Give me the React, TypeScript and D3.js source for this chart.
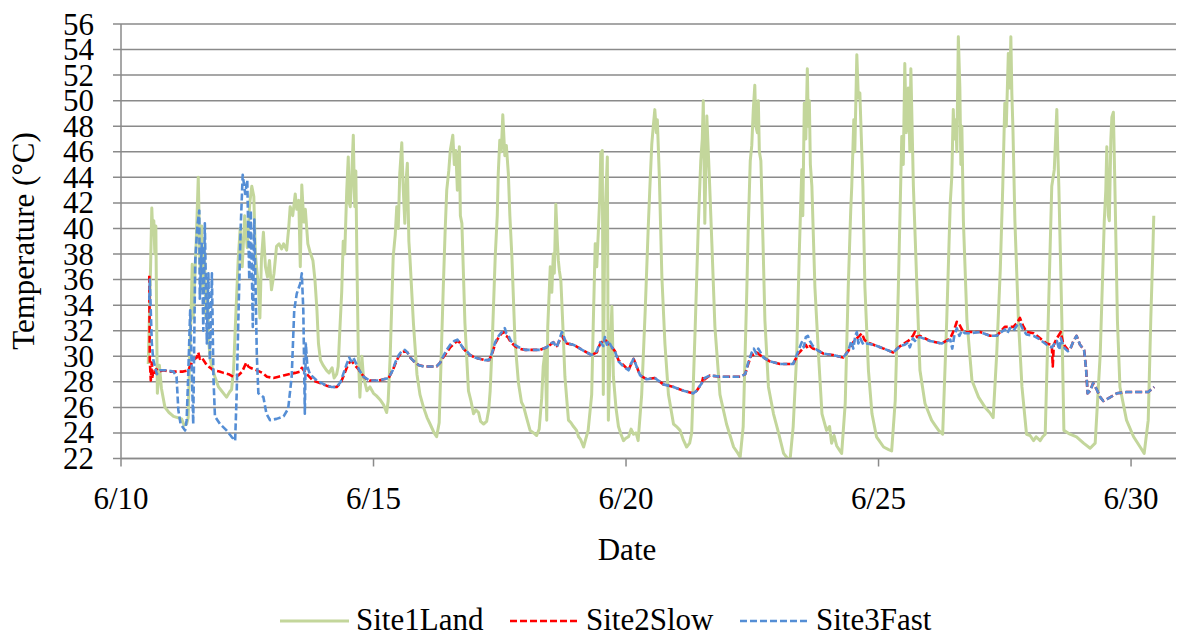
import * as d3 from "d3";

// day of June (fractional) and temperature in °C
const dayTicks = [10, 15, 20, 25, 30];
const tempTicks = d3.range(22, 57, 2);

const site1Land: [number, number][] = [
  [10.54, 29.4], [10.58, 36], [10.61, 41.6], [10.63, 39.5], [10.65, 40.6], [10.67, 38], [10.69, 40.2],
  [10.71, 31], [10.72, 27.1], [10.76, 29.3], [10.8, 27.5], [10.87, 26], [10.95, 25.6], [11.04, 25.3],
  [11.12, 25.2], [11.2, 25.1], [11.25, 24.6], [11.3, 24.7], [11.33, 25.2], [11.36, 30], [11.39, 33.6],
  [11.41, 37.2], [11.43, 33], [11.46, 36], [11.49, 39], [11.53, 44], [11.55, 40], [11.57, 36.5],
  [11.6, 40.2], [11.62, 35], [11.65, 38.5], [11.68, 33], [11.71, 35.5], [11.74, 31], [11.77, 29.7],
  [11.82, 28.9], [11.86, 28.4], [11.93, 27.6], [11.99, 27.3], [12.05, 27], [12.09, 26.8], [12.15, 27.2],
  [12.19, 27.4], [12.23, 29], [12.26, 32], [12.32, 37.5], [12.36, 40], [12.4, 37], [12.45, 41],
  [12.5, 38.5], [12.55, 42], [12.59, 43.3], [12.63, 42.5], [12.66, 38], [12.72, 35.5], [12.75, 33],
  [12.78, 37.5], [12.82, 39.7], [12.86, 37], [12.9, 36.2], [12.94, 37.5], [12.98, 35.2], [13.03, 36.5],
  [13.08, 38.6], [13.13, 38.8], [13.18, 38.4], [13.22, 38.8], [13.28, 38.3], [13.32, 40], [13.35, 41.7],
  [13.4, 41], [13.45, 42.7], [13.48, 41.5], [13.52, 42.2], [13.55, 37], [13.58, 43.4], [13.62, 40.5],
  [13.65, 41.5], [13.7, 38.8], [13.74, 38.2], [13.8, 37.5], [13.84, 36], [13.88, 33.6], [13.91, 31],
  [13.95, 29.7], [14.0, 29.3], [14.07, 28.9], [14.12, 28.7], [14.18, 29.1], [14.22, 28.3], [14.27, 28.6],
  [14.3, 29.2], [14.34, 32.6], [14.37, 35], [14.4, 39], [14.43, 38], [14.47, 43], [14.5, 45.6],
  [14.52, 42], [14.54, 41.7], [14.57, 44.3], [14.6, 47.3], [14.62, 43], [14.63, 41.7], [14.65, 44.5],
  [14.67, 37.8], [14.7, 30], [14.73, 26.8], [14.77, 30], [14.8, 28.4], [14.87, 27.3], [14.93, 27.6],
  [15.0, 27.1], [15.06, 26.9], [15.13, 26.6], [15.2, 26.2], [15.26, 25.6], [15.29, 26.5], [15.33, 30],
  [15.39, 37.8], [15.43, 39.5], [15.46, 41.7], [15.49, 40], [15.52, 44.3], [15.56, 46.7], [15.58, 44],
  [15.59, 43], [15.62, 40.4], [15.65, 44], [15.67, 45.1], [15.7, 39], [15.72, 37.8], [15.79, 32.6],
  [15.86, 28.6], [15.92, 27], [15.99, 26], [16.06, 25.2], [16.12, 24.7], [16.2, 24], [16.25, 23.7],
  [16.3, 24.8], [16.32, 27.3], [16.38, 35.2], [16.42, 40], [16.45, 43], [16.49, 44.5], [16.52, 46.1],
  [16.57, 47.3], [16.6, 45], [16.63, 46.1], [16.66, 43], [16.7, 46.4], [16.72, 41], [16.75, 40.4],
  [16.81, 32.6], [16.88, 27.3], [16.93, 26.5], [16.98, 25.5], [17.03, 25.8], [17.08, 25.6], [17.12, 24.9],
  [17.18, 24.7], [17.24, 24.9], [17.28, 25.8], [17.31, 27.3], [17.35, 31], [17.41, 37.8], [17.45, 41],
  [17.47, 44.3], [17.5, 46.9], [17.53, 46], [17.56, 48.9], [17.6, 45.7], [17.63, 46.5], [17.67, 44.3],
  [17.7, 41], [17.74, 37.8], [17.8, 31.3], [17.87, 27.9], [17.93, 26.4], [17.97, 26.1], [18.03, 25.2],
  [18.1, 24.2], [18.17, 24], [18.23, 23.8], [18.28, 24.3], [18.33, 26.7], [18.36, 29.2], [18.4, 30.5],
  [18.43, 25], [18.45, 32.3], [18.5, 37], [18.53, 35], [18.56, 38], [18.58, 36.5], [18.61, 41.9],
  [18.64, 39], [18.66, 37.5], [18.68, 36.7], [18.71, 35.9], [18.75, 32.3], [18.79, 28.4], [18.86, 25],
  [18.91, 24.8], [18.96, 24.5], [19.02, 24.2], [19.06, 23.7], [19.1, 23.5], [19.16, 22.9], [19.2, 23.5],
  [19.25, 24.2], [19.32, 27], [19.35, 32.3], [19.39, 38.8], [19.42, 37], [19.45, 39.6], [19.48, 42.5],
  [19.5, 45.9], [19.53, 46.1], [19.55, 27], [19.58, 40.4], [19.63, 45.6], [19.65, 25], [19.68, 29.7],
  [19.72, 33.9], [19.75, 28.4], [19.8, 26], [19.85, 24.5], [19.9, 23.9], [19.95, 23.4], [20.0, 23.6],
  [20.05, 23.7], [20.1, 24.3], [20.15, 23.9], [20.2, 24], [20.24, 23.4], [20.31, 27], [20.38, 33.6],
  [20.44, 40.1], [20.47, 43], [20.51, 46.6], [20.54, 48], [20.57, 49.3], [20.6, 47.5], [20.62, 48.5],
  [20.66, 44], [20.71, 36.2], [20.77, 31], [20.84, 27], [20.94, 24.7], [21.0, 24.5], [21.07, 24.2],
  [21.13, 23.5], [21.2, 22.9], [21.26, 23.2], [21.3, 24], [21.37, 32.3], [21.43, 40.1], [21.48, 45.3],
  [21.51, 47], [21.53, 50], [21.56, 40.4], [21.6, 48.8], [21.65, 44], [21.7, 38.8], [21.76, 32.3],
  [21.86, 27], [21.99, 24.7], [22.06, 23.8], [22.13, 22.9], [22.2, 22.5], [22.26, 22.1], [22.32, 24.5],
  [22.39, 34.9], [22.42, 40], [22.46, 45.3], [22.49, 46.5], [22.52, 49.3], [22.55, 51.2], [22.57, 48],
  [22.6, 47.5], [22.62, 50], [22.64, 46], [22.67, 45.3], [22.71, 39.3], [22.75, 32.8], [22.82, 27.6],
  [22.92, 25.5], [23.02, 24], [23.12, 22.4], [23.2, 22], [23.25, 22], [23.31, 24.5], [23.38, 30.2],
  [23.43, 38], [23.48, 44.6], [23.5, 41], [23.53, 49.8], [23.56, 47], [23.59, 52.5], [23.61, 48],
  [23.63, 50], [23.65, 45], [23.68, 43.3], [23.74, 35.4], [23.81, 30.2], [23.88, 25.5], [23.97, 24.2],
  [24.03, 24.5], [24.07, 23.2], [24.12, 23.8], [24.17, 23], [24.22, 22.7], [24.27, 22.4], [24.34, 26.3],
  [24.4, 35.4], [24.45, 41.5], [24.47, 43.3], [24.51, 48.5], [24.53, 46], [24.57, 53.6], [24.6, 50.2],
  [24.63, 50.6], [24.66, 47], [24.69, 43.3], [24.73, 35.4], [24.8, 28.9], [24.87, 25.5], [24.96, 23.7],
  [25.1, 22.9], [25.2, 22.7], [25.26, 22.6], [25.33, 26.5], [25.39, 35], [25.46, 47.2], [25.49, 45],
  [25.52, 52.9], [25.55, 47.5], [25.59, 51], [25.62, 46], [25.64, 52.5], [25.69, 43.3], [25.76, 35.4],
  [25.82, 28.9], [25.92, 26.3], [26.05, 25], [26.12, 24.6], [26.19, 24.2], [26.27, 23.9], [26.35, 32.8],
  [26.42, 42], [26.45, 44], [26.48, 49.3], [26.5, 47], [26.53, 48.5], [26.55, 46], [26.58, 55],
  [26.61, 51], [26.63, 45], [26.65, 48], [26.68, 40.6], [26.75, 32.8], [26.85, 28.1], [26.98, 26.8],
  [27.11, 26], [27.2, 25.6], [27.27, 25.2], [27.34, 30.2], [27.41, 36.7], [27.46, 43.3], [27.5, 49.8],
  [27.53, 48], [27.57, 53.7], [27.6, 51], [27.62, 55], [27.64, 50.5], [27.66, 48], [27.7, 40.6],
  [27.77, 32.8], [27.84, 27.6], [27.93, 23.9], [28.0, 23.8], [28.07, 23.4], [28.12, 23.7], [28.2, 23.4],
  [28.25, 23.7], [28.3, 23.9], [28.36, 32.8], [28.43, 43.3], [28.48, 44.6], [28.53, 49.3], [28.55, 46],
  [28.57, 43.3], [28.63, 32.8], [28.67, 24.2], [28.79, 23.9], [28.92, 23.7], [29.06, 23.2], [29.19, 22.8],
  [29.29, 23.2], [29.39, 30.2], [29.47, 40.6], [29.5, 43], [29.52, 46.4], [29.55, 41], [29.57, 40.6],
  [29.6, 47], [29.62, 48.7], [29.65, 49.1], [29.68, 43.3], [29.73, 32.8], [29.78, 27.6], [29.91, 25],
  [30.05, 23.7], [30.18, 22.9], [30.26, 22.4], [30.34, 25], [30.39, 32.8], [30.43, 38], [30.45, 41],
];

const site2Slow: [number, number][] = [
  [10.56, 36.3], [10.57, 29.7], [10.59, 28.1], [10.61, 29.5], [10.63, 28.4], [10.66, 28.6], [10.7, 29],
  [10.75, 28.8], [10.84, 28.9], [10.95, 28.8], [11.04, 28.8], [11.15, 28.8], [11.23, 28.8], [11.33, 28.9],
  [11.43, 29.7], [11.5, 29.9], [11.53, 30.3], [11.56, 29.8], [11.6, 29.9], [11.7, 29.3], [11.83, 28.9],
  [11.95, 28.8], [12.03, 28.7], [12.13, 28.6], [12.22, 28.4], [12.32, 28.5], [12.4, 28.8], [12.48, 29.5],
  [12.52, 29.2], [12.56, 29.1], [12.69, 28.9], [12.8, 28.7], [12.89, 28.4], [13.02, 28.3], [13.12, 28.4],
  [13.22, 28.5], [13.32, 28.6], [13.45, 28.7], [13.54, 28.8], [13.58, 29.1], [13.62, 28.9], [13.68, 28.6],
  [13.8, 28.1], [13.94, 27.9], [14.07, 27.7], [14.17, 27.6], [14.27, 27.6], [14.35, 27.9], [14.4, 28.4],
  [14.47, 29.1], [14.52, 29.5], [14.57, 29.6], [14.63, 29.3], [14.7, 29], [14.75, 28.7], [14.83, 28.3],
  [14.92, 28.1], [15.0, 28.1], [15.1, 28.1], [15.2, 28.2], [15.3, 28.3], [15.38, 28.9], [15.43, 29.4],
  [15.5, 30], [15.56, 30.3], [15.62, 30.4], [15.67, 30.3], [15.73, 29.9], [15.8, 29.6], [15.9, 29.3],
  [16.0, 29.2], [16.12, 29.2], [16.25, 29.2], [16.32, 29.5], [16.38, 29.9], [16.45, 30.3], [16.52, 30.7],
  [16.6, 31], [16.66, 31.2], [16.7, 31.1], [16.78, 30.6], [16.85, 30.3], [16.91, 30.1], [17.0, 29.9],
  [17.1, 29.8], [17.2, 29.7], [17.29, 29.7], [17.35, 30.2], [17.41, 31], [17.48, 31.5], [17.54, 31.8],
  [17.6, 31.9], [17.62, 31.6], [17.66, 31.5], [17.72, 31.1], [17.8, 30.8], [17.88, 30.6], [18.0, 30.5],
  [18.1, 30.5], [18.2, 30.5], [18.3, 30.5], [18.43, 30.7], [18.5, 30.9], [18.56, 31.1], [18.63, 30.8],
  [18.73, 31.6], [18.8, 31.1], [18.83, 31], [18.96, 30.9], [19.09, 30.6], [19.22, 30.3], [19.32, 30.1],
  [19.42, 30.3], [19.49, 31], [19.58, 31.3], [19.65, 31], [19.72, 30.7], [19.78, 30.4], [19.85, 29.7],
  [19.95, 29.3], [20.05, 28.9], [20.08, 29.2], [20.15, 29.8], [20.21, 29.2], [20.28, 28.5], [20.41, 28.2],
  [20.57, 28.3], [20.74, 27.8], [20.94, 27.6], [21.14, 27.3], [21.33, 27.1], [21.4, 27.3], [21.5, 27.9],
  [21.53, 28.4], [21.56, 28.2], [21.66, 28.5], [21.86, 28.4], [22.06, 28.4], [22.26, 28.4], [22.36, 28.6],
  [22.42, 29.4], [22.49, 30.2], [22.52, 30.1], [22.58, 30.3], [22.62, 30.2], [22.72, 29.9], [22.85, 29.6],
  [23.05, 29.4], [23.31, 29.4], [23.41, 30.2], [23.5, 30.6], [23.56, 30.9], [23.6, 30.6], [23.64, 30.8],
  [23.7, 30.6], [23.78, 30.5], [23.91, 30.2], [24.1, 30.1], [24.3, 29.9], [24.4, 30.4], [24.5, 31.1],
  [24.57, 31.4], [24.62, 31.6], [24.67, 31.8], [24.72, 31.3], [24.77, 31.1], [24.9, 30.9], [25.1, 30.6],
  [25.29, 30.3], [25.43, 30.8], [25.59, 31.2], [25.68, 31.6], [25.72, 31.9], [25.76, 31.5], [25.82, 31.6],
  [26.02, 31.2], [26.25, 31], [26.42, 31.4], [26.5, 32.1], [26.55, 32.7], [26.6, 32.5], [26.65, 32.1],
  [26.71, 31.9], [26.81, 31.9], [27.01, 31.9], [27.21, 31.6], [27.34, 31.6], [27.5, 32.3], [27.6, 32.3],
  [27.67, 32.3], [27.74, 32.6], [27.8, 33], [27.86, 32.4], [27.93, 31.9], [28.07, 31.8], [28.2, 31.4],
  [28.33, 31], [28.43, 30.9], [28.45, 29.2], [28.47, 30.9], [28.53, 31.4], [28.61, 31.9], [28.65, 31.1],
  [28.69, 30.8], [28.75, 30.5], [28.79, 30.5], [28.86, 31.2], [28.92, 31.6], [28.99, 30.9], [29.07, 30.5],
  [29.11, 29], [29.14, 27.1], [29.19, 27.3], [29.25, 27.9], [29.32, 27.4], [29.39, 26.8], [29.45, 26.5],
  [29.55, 26.7], [29.72, 27.1], [29.91, 27.2], [30.18, 27.2], [30.34, 27.2], [30.46, 27.6],
];

const site3Fast: [number, number][] = [
  [10.56, 34.4], [10.57, 36], [10.61, 31], [10.64, 29.7], [10.71, 28.6], [10.77, 28.9], [10.9, 28.9],
  [11.04, 28.8], [11.1, 28.4], [11.135, 25.8], [11.18, 24.7], [11.27, 24.2], [11.3, 25], [11.33, 28.4],
  [11.37, 33.6], [11.43, 24.7], [11.47, 37.5], [11.51, 40.1], [11.55, 41.4], [11.56, 34.5], [11.6, 38.8],
  [11.63, 32], [11.66, 40.4], [11.7, 31], [11.73, 36.5], [11.76, 29.7], [11.8, 36.5], [11.83, 28.4],
  [11.86, 25.3], [11.96, 24.7], [12.09, 24.2], [12.19, 23.7], [12.26, 23.4], [12.29, 27], [12.32, 32.3],
  [12.37, 40.1], [12.41, 44.2], [12.46, 42.7], [12.5, 43.8], [12.54, 36], [12.57, 41.4], [12.61, 32.3],
  [12.64, 40.7], [12.69, 30], [12.72, 27.1], [12.82, 26.8], [12.88, 25.5], [12.95, 25], [13.08, 25.1],
  [13.22, 25.3], [13.31, 25.9], [13.38, 28.4], [13.43, 33.6], [13.48, 34.9], [13.55, 35.7], [13.58, 36.5],
  [13.61, 33.6], [13.64, 25.5], [13.66, 31], [13.69, 29.2], [13.74, 28.6], [13.88, 28.1], [14.07, 27.7],
  [14.17, 27.6], [14.27, 27.6], [14.35, 28], [14.4, 28.6], [14.47, 29.4], [14.52, 29.9], [14.56, 29.6],
  [14.6, 29.9], [14.66, 29.4], [14.72, 28.9], [14.8, 28.4], [14.92, 28.1], [15.0, 28.1], [15.1, 28.1],
  [15.2, 28.2], [15.3, 28.3], [15.38, 28.9], [15.43, 29.5], [15.5, 30.1], [15.56, 30.4], [15.62, 30.5],
  [15.67, 30.3], [15.73, 29.9], [15.8, 29.6], [15.9, 29.3], [16.0, 29.2], [16.12, 29.2], [16.25, 29.2],
  [16.32, 29.5], [16.38, 30], [16.45, 30.5], [16.52, 30.9], [16.6, 31.2], [16.66, 31.3], [16.7, 31.1],
  [16.78, 30.6], [16.85, 30.4], [16.91, 30.1], [17.0, 29.9], [17.1, 29.8], [17.2, 29.7], [17.29, 29.7],
  [17.35, 30.3], [17.41, 31.1], [17.48, 31.6], [17.54, 31.9], [17.6, 32.2], [17.63, 31.8], [17.66, 31.7],
  [17.72, 31.2], [17.8, 30.9], [17.88, 30.7], [18.0, 30.5], [18.1, 30.5], [18.2, 30.5], [18.3, 30.5],
  [18.43, 30.7], [18.5, 31], [18.56, 31.1], [18.63, 30.7], [18.73, 31.9], [18.8, 31.2], [18.83, 31],
  [18.96, 30.9], [19.09, 30.6], [19.22, 30.3], [19.32, 30.1], [19.42, 30.4], [19.49, 31.1], [19.55, 30.8],
  [19.58, 31.5], [19.62, 30.9], [19.65, 31.2], [19.72, 30.7], [19.78, 30.4], [19.85, 29.6], [19.95, 29.2],
  [20.05, 28.9], [20.08, 29.3], [20.15, 29.8], [20.21, 29.2], [20.28, 28.5], [20.41, 28.2], [20.57, 28.3],
  [20.74, 27.8], [20.94, 27.6], [21.14, 27.3], [21.33, 27.1], [21.4, 27.3], [21.5, 27.9], [21.56, 28.3],
  [21.66, 28.5], [21.86, 28.4], [22.06, 28.4], [22.26, 28.4], [22.36, 28.6], [22.42, 29.5], [22.49, 30.3],
  [22.53, 30.6], [22.58, 30.2], [22.62, 30.6], [22.72, 29.9], [22.85, 29.6], [23.05, 29.4], [23.31, 29.4],
  [23.41, 30.4], [23.48, 31.1], [23.52, 30.7], [23.56, 31.5], [23.6, 31.6], [23.64, 31.2], [23.7, 30.8],
  [23.78, 30.5], [23.91, 30.2], [24.1, 30.1], [24.3, 29.9], [24.4, 30.4], [24.46, 31.2], [24.5, 30.6],
  [24.54, 31.6], [24.57, 31.9], [24.6, 31], [24.64, 31.4], [24.7, 30.9], [24.77, 31], [24.9, 30.9],
  [25.1, 30.6], [25.29, 30.3], [25.43, 30.8], [25.52, 30.9], [25.59, 31.1], [25.62, 30.7], [25.68, 31.4],
  [25.72, 31.2], [25.76, 31.4], [25.82, 31.5], [26.02, 31.2], [26.25, 31], [26.42, 31.3], [26.46, 30.6],
  [26.5, 31.6], [26.55, 32.2], [26.6, 31.6], [26.65, 32], [26.71, 31.8], [26.81, 31.8], [27.01, 31.9],
  [27.21, 31.6], [27.34, 31.6], [27.5, 32.1], [27.55, 31.8], [27.6, 32.2], [27.67, 32], [27.74, 32.4],
  [27.8, 32.6], [27.86, 32.1], [27.93, 31.7], [28.07, 31.6], [28.2, 31.3], [28.33, 30.9], [28.43, 30.7],
  [28.47, 30.9], [28.53, 31.2], [28.58, 30.5], [28.61, 31.4], [28.65, 30.9], [28.69, 30.6], [28.75, 30.4],
  [28.79, 30.5], [28.86, 31.2], [28.92, 31.6], [28.99, 30.9], [29.07, 30.5], [29.11, 29], [29.14, 27.1],
  [29.19, 27.3], [29.25, 27.9], [29.32, 27.4], [29.39, 26.8], [29.45, 26.5], [29.55, 26.7], [29.72, 27.1],
  [29.91, 27.2], [30.18, 27.2], [30.34, 27.2], [30.46, 27.6],
];

const WIDTH = 1179;
const HEIGHT = 634;
const PLOT = { left: 121, right: 1176, top: 24, bottom: 458.5 };
const GRID = "#8a8a8a";

const SERIES = [
  { name: "Site1Land", data: site1Land, color: "#c3d69b", width: 3, dash: undefined, legendX: 280 },
  { name: "Site2Slow", data: site2Slow, color: "#ff0000", width: 2.6, dash: "7 3", legendX: 510 },
  { name: "Site3Fast", data: site3Fast, color: "#558ed5", width: 2.6, dash: "7 3", legendX: 740 },
];

function Label(props: any) {
  const { children, ...rest } = props;
  return (
    <text {...rest} style={{ fontFamily: "Tinos", fontSize: 31, fill: "#000" }}>
      {children}
    </text>
  );
}

export default function App() {
  const x = d3.scaleLinear().domain([10, 30.89]).range([PLOT.left, PLOT.right]);
  const y = d3.scaleLinear().domain([22, 56]).range([PLOT.bottom, PLOT.top]);

  const line = d3
    .line<[number, number]>()
    .x((d) => x(d[0]))
    .y((d) => y(d[1]));

  return (
    <svg width={WIDTH} height={HEIGHT} style={{ position: "absolute", left: 0, top: 0 }}>
      <defs>
        <clipPath id="plot-clip">
          <rect x={PLOT.left} y={PLOT.top - 2} width={PLOT.right - PLOT.left} height={PLOT.bottom - PLOT.top + 2} />
        </clipPath>
      </defs>

      {/* horizontal gridlines */}
      {tempTicks.map((t) => (
        <line key={t} x1={PLOT.left - 8} x2={PLOT.right} y1={y(t)} y2={y(t)} stroke={GRID} strokeWidth={1.5} />
      ))}

      {/* series */}
      <g clipPath="url(#plot-clip)">
        {SERIES.map((s) => (
          <path
            key={s.name}
            d={line(s.data) ?? ""}
            fill="none"
            stroke={s.color}
            strokeWidth={s.width}
            strokeDasharray={s.dash}
            strokeLinejoin="round"
          />
        ))}
      </g>

      {/* axes */}
      <line x1={PLOT.left} x2={PLOT.left} y1={PLOT.top} y2={PLOT.bottom} stroke={GRID} strokeWidth={1.5} />
      <line x1={PLOT.left} x2={PLOT.right} y1={PLOT.bottom} y2={PLOT.bottom} stroke={GRID} strokeWidth={1.5} />
      {dayTicks.map((d) => (
        <line key={d} x1={x(d)} x2={x(d)} y1={PLOT.bottom} y2={PLOT.bottom + 8} stroke={GRID} strokeWidth={1.5} />
      ))}

      {/* legend swatches */}
      {SERIES.map((s) => (
        <line
          key={s.name}
          x1={s.legendX}
          x2={s.legendX + 69}
          y1={621}
          y2={621}
          stroke={s.color}
          strokeWidth={s.width}
          strokeDasharray={s.dash}
        />
      ))}

      {/* texts */}
      {tempTicks.map((t) => (
        <Label key={`y${t}`} x={94} y={y(t) + 10.5} textAnchor="end">
          {t}
        </Label>
      ))}
      {dayTicks.map((d) => (
        <Label key={`x${d}`} x={x(d)} y={509} textAnchor="middle">
          {`6/${d}`}
        </Label>
      ))}
      <Label x={627} y={560} textAnchor="middle">
        Date
      </Label>
      <Label transform="translate(34, 241) rotate(-90)" textAnchor="middle">
        Temperature (°C)
      </Label>
      {SERIES.map((s) => (
        <Label key={`l${s.name}`} x={s.legendX + 76} y={630}>
          {s.name}
        </Label>
      ))}
    </svg>
  );
}
